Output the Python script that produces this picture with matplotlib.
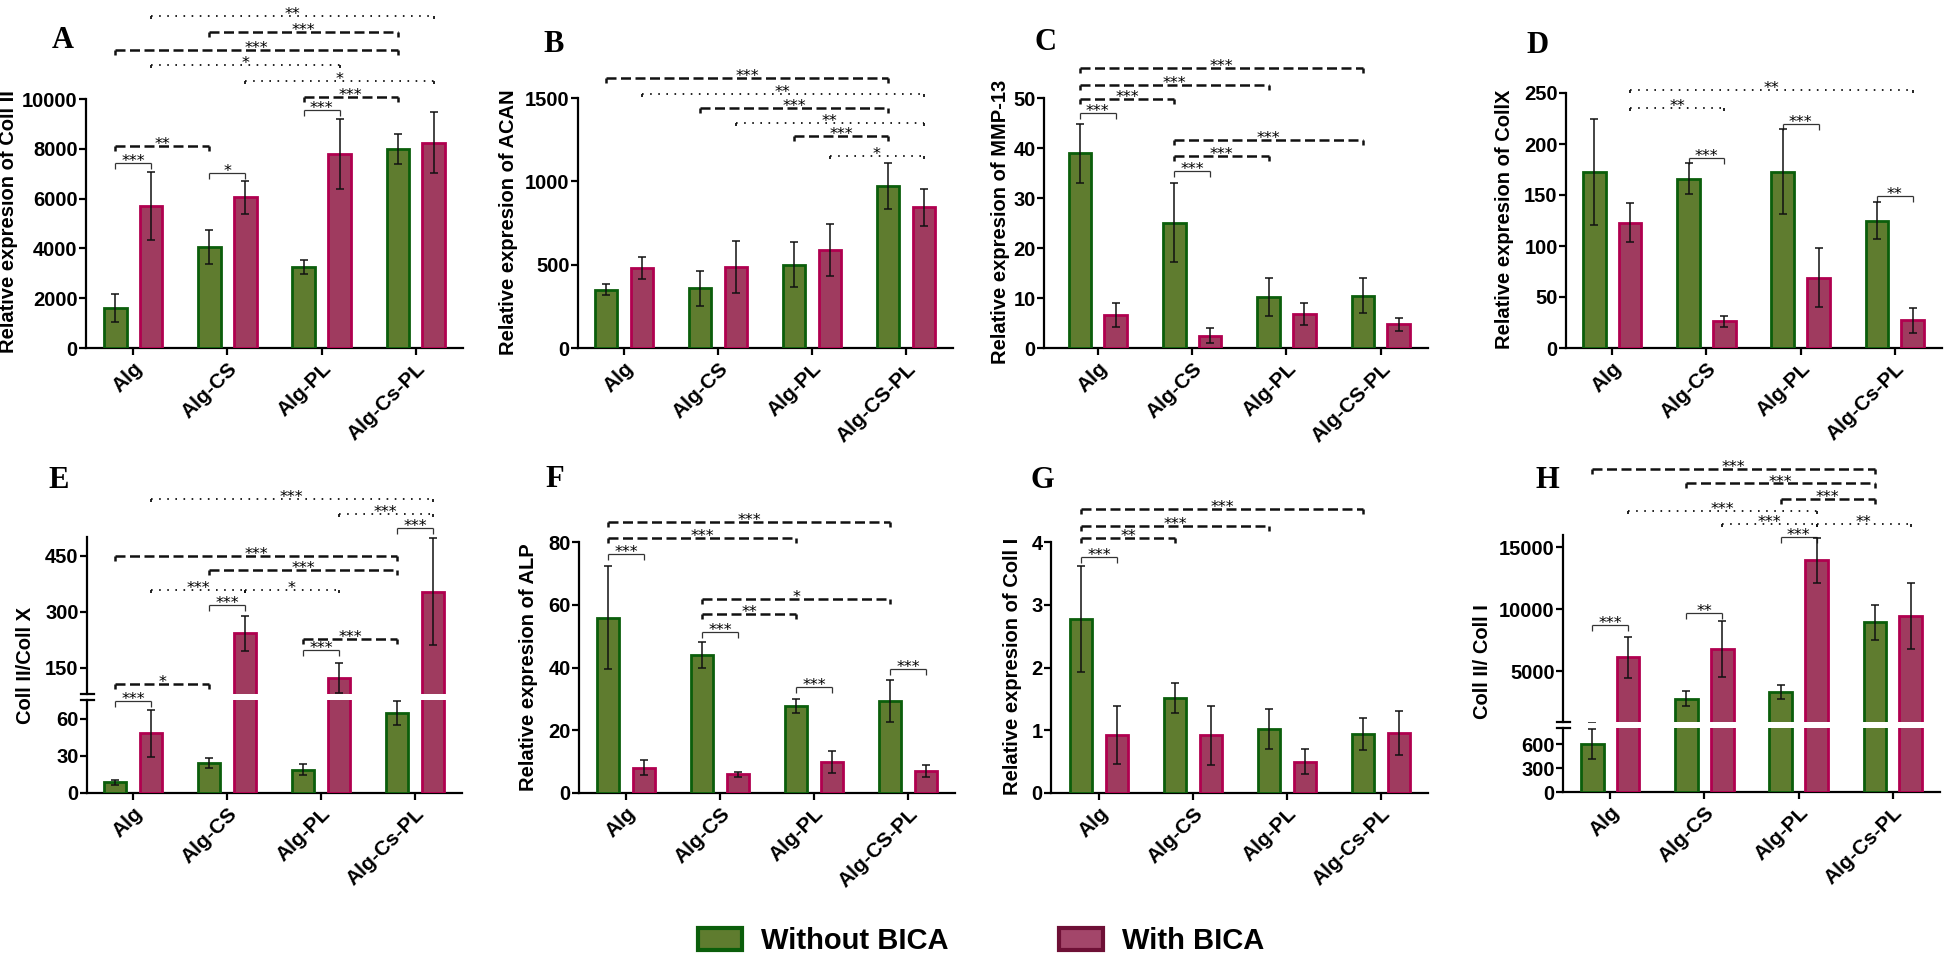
import numpy as np
import matplotlib
matplotlib.use("Agg")
import matplotlib.pyplot as plt
from matplotlib.patches import Patch
from matplotlib.lines import Line2D

plt.rcParams['font.family'] = ['Liberation Sans', 'DejaVu Sans']

# ---------------- data ----------------
groups_cs = ['Alg', 'Alg-CS', 'Alg-PL', 'Alg-Cs-PL']
groups_CS = ['Alg', 'Alg-CS', 'Alg-PL', 'Alg-CS-PL']
series_names = ['Without BICA', 'With BICA']

# A - Coll II
coll2_wo = [1600, 4050, 3250, 8000]
coll2_wo_err = [560, 670, 290, 600]
coll2_w = [5700, 6050, 7800, 8250]
coll2_w_err = [1380, 670, 1400, 1240]

# B - ACAN
acan_wo = [350, 360, 500, 970]
acan_wo_err = [33, 105, 134, 138]
acan_w = [480, 486, 590, 844]
acan_w_err = [67, 158, 155, 110]

# C - MMP-13
mmp_wo = [39.0, 25.1, 10.2, 10.5]
mmp_wo_err = [5.9, 7.9, 3.8, 3.5]
mmp_w = [6.7, 2.5, 6.8, 4.8]
mmp_w_err = [2.4, 1.5, 2.2, 1.3]

# D - Coll X
collx_wo = [173, 166, 173, 125]
collx_wo_err = [52, 15, 42, 18]
collx_w = [123, 26, 69, 27]
collx_w_err = [19.5, 5, 29, 12]

# E - Coll II / Coll X
ratio_x_wo = [8.5, 24, 18.7, 64.5]
ratio_x_wo_err = [2, 4, 4.3, 9.7]
ratio_x_w = [48, 242, 124, 354]
ratio_x_w_err = [19, 46, 40, 143]

# F - ALP
alp_wo = [55.9, 44.0, 27.8, 29.3]
alp_wo_err = [16.3, 4.1, 2.3, 6.8]
alp_w = [8.1, 6.0, 9.9, 7.0]
alp_w_err = [2.3, 0.8, 3.5, 2.0]

# G - Coll I
coll1_wo = [2.77, 1.51, 1.02, 0.94]
coll1_wo_err = [0.84, 0.24, 0.32, 0.25]
coll1_w = [0.93, 0.92, 0.50, 0.95]
coll1_w_err = [0.46, 0.47, 0.20, 0.35]

# H - Coll II / Coll I
ratio_1_wo = [600, 2780, 3320, 8950]
ratio_1_wo_err = [190, 570, 570, 1430]
ratio_1_w = [6100, 6760, 13950, 9460]
ratio_1_w_err = [1660, 2270, 1800, 2650]

# significance brackets: (group1, bar1, group2, bar2, height, style, stars)
# bar 0 = without BICA, 1 = with BICA; style s=solid, d=dashed, o=dotted
sig_a = [(0, 0, 0, 1, 7420, 's', '***'), (0, 0, 1, 0, 8116, 'd', '**'),
         (1, 0, 1, 1, 7046, 's', '*'), (2, 0, 2, 1, 9560, 's', '***'),
         (2, 0, 3, 0, 10094, 'd', '***'), (1, 1, 3, 1, 10736, 'o', '*'),
         (0, 1, 2, 1, 11365, 'o', '*'), (0, 0, 3, 0, 11966, 'd', '***'),
         (1, 0, 3, 0, 12700, 'd', '***'), (0, 1, 3, 1, 13343, 'o', '**')]
sig_b = [(0, 0, 3, 0, 1620, 'd', '***'), (0, 1, 3, 1, 1526, 'o', '**'),
         (1, 0, 3, 0, 1440, 'd', '***'), (1, 1, 3, 1, 1350, 'o', '**'),
         (2, 0, 3, 0, 1270, 'd', '***'), (2, 1, 3, 1, 1154, 'o', '*')]
sig_c = [(0, 0, 0, 1, 47.0, 's', '***'), (0, 0, 1, 0, 49.9, 'd', '***'),
         (0, 0, 2, 0, 52.7, 'd', '***'), (0, 0, 3, 0, 56.0, 'd', '***'),
         (1, 0, 1, 1, 35.5, 's', '***'), (1, 0, 2, 0, 38.5, 'd', '***'),
         (1, 0, 3, 0, 41.7, 'd', '***')]
sig_d = [(1, 0, 1, 1, 186.5, 's', '***'), (2, 0, 2, 1, 220, 's', '***'),
         (3, 0, 3, 1, 149, 's', '**'), (0, 1, 1, 1, 235.7, 'o', '**'),
         (0, 1, 3, 1, 253.3, 'o', '**')]
sig_e_low = [(0, 0, 0, 1, 74.5, 's', '***')]
sig_e = [(0, 0, 1, 0, 108, 'd', '*'), (1, 0, 1, 1, 318, 's', '***'),
         (2, 0, 2, 1, 197, 's', '***'), (2, 0, 3, 0, 227, 'd', '***'),
         (0, 1, 1, 1, 358, 'o', '***'), (1, 1, 2, 1, 358, 'o', '*'),
         (1, 0, 3, 0, 412, 'd', '***'), (0, 0, 3, 0, 449, 'd', '***'),
         (3, 0, 3, 1, 523, 's', '***'), (2, 1, 3, 1, 561, 'o', '***'),
         (0, 1, 3, 1, 601, 'o', '***')]
sig_f = [(0, 0, 0, 1, 76.3, 's', '***'), (0, 0, 2, 0, 81.3, 'd', '***'),
         (0, 0, 3, 0, 86.4, 'd', '***'), (1, 0, 1, 1, 51.3, 's', '***'),
         (1, 0, 2, 0, 57.0, 'd', '**'), (1, 0, 3, 0, 61.9, 'd', '*'),
         (2, 0, 2, 1, 33.7, 's', '***'), (3, 0, 3, 1, 39.4, 's', '***')]
sig_g = [(0, 0, 0, 1, 3.76, 's', '***'), (0, 0, 1, 0, 4.06, 'd', '**'),
         (0, 0, 2, 0, 4.26, 'd', '***'), (0, 0, 3, 0, 4.53, 'd', '***')]
sig_h = [(0, 0, 0, 1, 8755, 's', '***'), (1, 0, 1, 1, 9690, 's', '**'),
         (2, 0, 2, 1, 15816, 's', '***'), (1, 1, 2, 1, 16895, 'o', '***'),
         (2, 1, 3, 1, 16895, 'o', '**'), (0, 1, 2, 1, 17967, 'o', '***'),
         (2, 0, 3, 0, 18910, 'd', '***'), (1, 0, 3, 0, 20168, 'd', '***'),
         (0, 0, 3, 0, 21328, 'd', '***')]

# ---------------- style ----------------
W, H = 1946, 958
GREEN, GREEN_EDGE = '#5f7c2f', '#0b5e0b'
PINK, PINK_EDGE = '#9f3b5f', '#b0004f'
BAR_W = 0.24
OFF = 0.19
TICK_FS = 14.5
LABEL_FS = 14.5
XT_FS = 15
STAR_FS = 11.5

fig = plt.figure(figsize=(W / 100, H / 100), dpi=100)


def px_rect(x0, x1, ytop, ybot):
    return [x0 / W, 1 - ybot / H, (x1 - x0) / W, (ybot - ytop) / H]


def style_axes(ax, yticks, xleft, show_x=True, xlabels=None):
    for s in ['top', 'right']:
        ax.spines[s].set_visible(False)
    for s in ['left', 'bottom']:
        ax.spines[s].set_linewidth(1.6)
    ax.set_yticks(yticks, labels=[str(v) for v in yticks],
                  fontsize=TICK_FS, fontweight='bold')
    ax.tick_params(axis='y', length=5, width=1.6, pad=1)
    ax.set_xlim(xleft, 3.5)
    if show_x:
        ax.set_xticks(range(4))
        ax.set_xticklabels(xlabels, rotation=45, ha='right', va='top',
                           rotation_mode='anchor', fontsize=XT_FS, fontweight='bold')
        ax.tick_params(axis='x', length=5, width=1.6, pad=3)
    else:
        ax.spines['bottom'].set_visible(False)
        ax.set_xticks([])


def draw_bars(ax, wo, wo_err, w, w_err):
    x = np.arange(4)
    ekw = dict(ecolor='#111111', elinewidth=1.1, capsize=3, capthick=1.1, zorder=4)
    ax.bar(x - OFF, wo, BAR_W, yerr=wo_err, color=GREEN, edgecolor=GREEN_EDGE,
           linewidth=2, error_kw=ekw, zorder=3)
    ax.bar(x + OFF, w, BAR_W, yerr=w_err, color=PINK, edgecolor=PINK_EDGE,
           linewidth=2, error_kw=ekw, zorder=3)


def draw_sig(ax, sigs, unit):
    # unit = data units per pixel
    for g1, b1, g2, b2, y, st, stars in sigs:
        x1 = g1 + (b1 - 0.5) * 2 * OFF
        x2 = g2 + (b2 - 0.5) * 2 * OFF
        if st == 's':
            kw = dict(color='#333333', lw=0.9, linestyle='-')
            leg, lkw = 6, dict(color='#333333', lw=0.9)
        elif st == 'd':
            kw = dict(color='#111111', lw=1.8, linestyle=(0, (4.0, 1.8)))
            leg, lkw = 5, dict(color='#111111', lw=1.8)
        else:
            kw = dict(color='#111111', lw=1.3, linestyle=(0, (0.9, 3.6)))
            leg, lkw = 3, dict(color='#111111', lw=1.3)
        ax.plot([x1, x2], [y, y], clip_on=False, solid_capstyle='butt', **kw)
        for xx in (x1, x2):
            ax.plot([xx, xx], [y, y - leg * unit], clip_on=False,
                    solid_capstyle='butt', **lkw)
        ax.annotate(stars, ((x1 + x2) / 2, y), xytext=(0, -2.2),
                    textcoords='offset points', ha='center', va='baseline',
                    fontsize=STAR_FS, family='DejaVu Sans', annotation_clip=False)


def simple_panel(rect, ylim, yticks, xleft, xlabels, data, sigs):
    ax = fig.add_axes(px_rect(*rect))
    draw_bars(ax, *data)
    unit = (ylim[1] - ylim[0]) / (rect[3] - rect[2])
    draw_sig(ax, sigs, unit)
    ax.set_ylim(*ylim)
    style_axes(ax, list(yticks), xleft, True, xlabels)
    return ax


def break_marks(ax, where, half_px):
    wfrac = half_px / (ax.get_position().width * W)
    y = 0 if where == 'bottom' else 1
    ax.add_line(Line2D([-wfrac, wfrac], [y, y], transform=ax.transAxes,
                       color='black', lw=1.6, clip_on=False))


def broken_panel(rect_hi, rect_lo, ylim_hi, ylim_lo, yt_hi, yt_lo, xleft,
                 xlabels, data, sigs_hi, sigs_lo):
    ax_hi = fig.add_axes(px_rect(*rect_hi))
    ax_lo = fig.add_axes(px_rect(*rect_lo))
    for ax in (ax_hi, ax_lo):
        draw_bars(ax, *data)
    draw_sig(ax_hi, sigs_hi, (ylim_hi[1] - ylim_hi[0]) / (rect_hi[3] - rect_hi[2]))
    draw_sig(ax_lo, sigs_lo, (ylim_lo[1] - ylim_lo[0]) / (rect_lo[3] - rect_lo[2]))
    ax_hi.set_ylim(*ylim_hi)
    ax_lo.set_ylim(*ylim_lo)
    style_axes(ax_hi, yt_hi, xleft, False)
    style_axes(ax_lo, yt_lo, xleft, True, xlabels)
    break_marks(ax_hi, 'bottom', 6.5)
    break_marks(ax_lo, 'top', 6.5)
    return ax_hi, ax_lo


# ---------------- panels (pixel layout: x0, x1, ytop, ybottom) ----------------
simple_panel((86, 463, 99, 348), (0, 10000), range(0, 10001, 2000), -0.5, groups_cs,
             (coll2_wo, coll2_wo_err, coll2_w, coll2_w_err), sig_a)
simple_panel((578, 953, 98, 348), (0, 1500), range(0, 1501, 500), -0.49, groups_CS,
             (acan_wo, acan_wo_err, acan_w, acan_w_err), sig_b)
simple_panel((1044, 1428, 98, 348), (0, 50), range(0, 51, 10), -0.57, groups_CS,
             (mmp_wo, mmp_wo_err, mmp_w, mmp_w_err), sig_c)
simple_panel((1566, 1942, 93, 348), (0, 250), range(0, 251, 50), -0.49, groups_cs,
             (collx_wo, collx_wo_err, collx_w, collx_w_err), sig_d)

broken_panel((87, 462, 537, 694), (87, 462, 700, 793), (80, 500), (0, 75),
             [150, 300, 450], [0, 30, 60], -0.49, groups_cs,
             (ratio_x_wo, ratio_x_wo_err, ratio_x_w, ratio_x_w_err), sig_e, sig_e_low)
simple_panel((579, 955, 542, 793), (0, 80), range(0, 81, 20), -0.5, groups_CS,
             (alp_wo, alp_wo_err, alp_w, alp_w_err), sig_f)
simple_panel((1051, 1428, 542, 793), (0, 4), range(0, 5), -0.51, groups_cs,
             (coll1_wo, coll1_wo_err, coll1_w, coll1_w_err), sig_g)
broken_panel((1563, 1940, 535, 722), (1563, 1940, 728, 792), (880, 16000), (0, 800),
             [5000, 10000, 15000], [0, 300, 600], -0.5, groups_cs,
             (ratio_1_wo, ratio_1_wo_err, ratio_1_w, ratio_1_w_err), sig_h, [])

# y labels
ylabels = [('Relative expresion of Coll II', 9, 222), ('Relative expresion of ACAN', 509, 222),
           ('Relative expresion of MMP-13', 1001, 222), ('Relative expresion of CollX', 1504, 219),
           ('Coll II/Coll X', 26, 665), ('Relative expresion of ALP', 528, 667),
           ('Relative expresion of Coll I', 1012, 666), ('Coll II/ Coll I', 1482, 662)]
for txt, x, y in ylabels:
    fig.text(x / W, 1 - y / H, txt, rotation=90, ha='center', va='center',
             fontsize=LABEL_FS, fontweight='bold')

# panel letters
letters = [('A', 52, 48), ('B', 543, 52), ('C', 1035, 50), ('D', 1526, 53),
           ('E', 48, 488), ('F', 545, 487), ('G', 1031, 488), ('H', 1535, 488)]
for ch, x, y in letters:
    fig.text(x / W, 1 - y / H, ch, ha='left', va='baseline', fontsize=22,
             fontweight='bold', family='Liberation Serif')

handles = [Patch(facecolor=GREEN, edgecolor=GREEN_EDGE, linewidth=3, label=series_names[0]),
           Patch(facecolor='#a3466a', edgecolor='#6e1036', linewidth=3, label=series_names[1])]
fig.legend(handles=handles, loc='center', bbox_to_anchor=(981 / W, 1 - 941 / H), ncol=2,
           frameon=False, prop={'weight': 'bold', 'size': 21}, handlelength=1.5,
           handleheight=0.75, handletextpad=0.65, columnspacing=3.8, borderpad=0)

fig.savefig('out.png', dpi=100)
